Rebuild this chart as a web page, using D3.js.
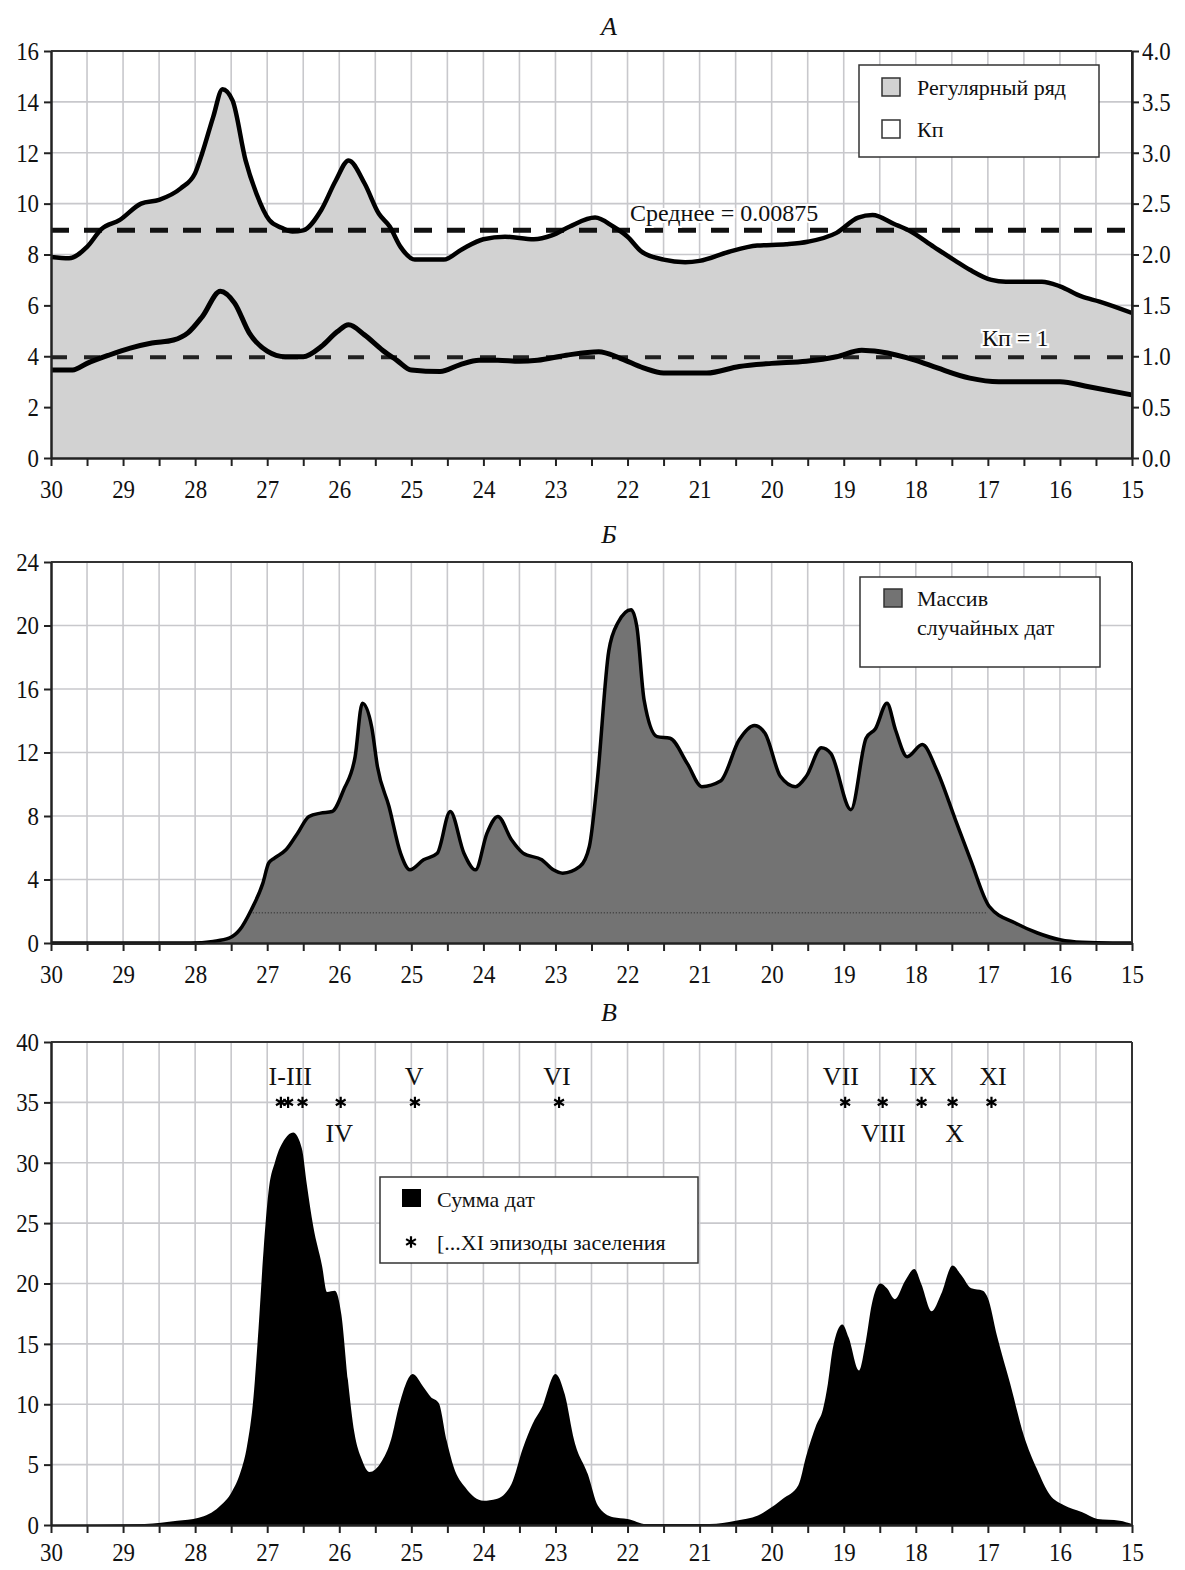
<!DOCTYPE html>
<html>
<head>
<meta charset="utf-8">
<script src="https://cdn.jsdelivr.net/npm/d3@7"></script>
<style>
  body { margin: 0; background: #fff; }
  svg text { font-family: "Liberation Serif", "Times New Roman", serif; fill: #111; }
</style>
</head>
<body>
<script>

var width  = 1185;
var height = 1570;

// panel A: regular series (left axis) and Kп (right axis)
var regYears  = [30, 29.75, 29.5, 29.3, 29.05, 28.75, 28.5, 28.2, 28.0, 27.9, 27.75, 27.62, 27.48, 27.3, 27.15,
                 26.97, 26.8, 26.65, 26.5, 26.25, 26.05, 25.87, 25.65, 25.45, 25.3, 25.15, 24.95, 24.55, 24.3, 24.0,
                 23.7, 23.3, 23.05, 22.8, 22.45, 22.2, 22.0, 21.8, 21.5, 21.2, 21.0, 20.6, 20.2, 19.8, 19.5,
                 19.1, 18.8, 18.6, 18.3, 18.1, 17.75, 17.45, 17.25, 16.95, 16.75, 16.25, 16.0, 15.7, 15.45, 15.0];
var regValues = [7.9, 7.85, 8.3, 9.0, 9.35, 10.0, 10.15, 10.6, 11.2, 12.0, 13.4, 14.5, 14.05, 11.7, 10.4,
                 9.35, 9.05, 8.9, 8.95, 9.75, 10.9, 11.7, 10.8, 9.6, 9.1, 8.3, 7.8, 7.8, 8.2, 8.6,
                 8.7, 8.6, 8.75, 9.1, 9.45, 9.1, 8.7, 8.1, 7.8, 7.7, 7.75, 8.1, 8.35, 8.4, 8.5,
                 8.85, 9.45, 9.55, 9.2, 8.95, 8.3, 7.75, 7.4, 7.0, 6.93, 6.93, 6.75, 6.35, 6.15, 5.7];

var kpYears  = [30.0, 29.7, 29.5, 29.2, 28.9, 28.6, 28.3, 28.1, 27.9, 27.65, 27.45, 27.25, 27.0, 26.75, 26.5,
                26.25, 26.03, 25.87, 25.65, 25.4, 25.2, 25.0, 24.6, 24.33, 24.06, 23.8, 23.5, 23.25, 22.85, 22.4,
                22.1, 21.78, 21.5, 20.9, 20.45, 20.0, 19.52, 19.1, 18.75, 18.5, 18.0, 17.7, 17.25, 16.85, 16.0,
                15.6, 15.0];
var kpValues = [0.865, 0.865, 0.93, 1.01, 1.08, 1.13, 1.16, 1.23, 1.39, 1.64, 1.52, 1.23, 1.05, 0.995, 0.995,
                1.095, 1.24, 1.31, 1.21, 1.06, 0.96, 0.865, 0.85, 0.915, 0.96, 0.96, 0.95, 0.96, 1.01, 1.045,
                0.98, 0.885, 0.835, 0.835, 0.9, 0.93, 0.95, 0.995, 1.06, 1.045, 0.96, 0.885, 0.785, 0.75, 0.75,
                0.70, 0.62];

var meanLevel = 8.95;   // left axis
var kpLevel   = 0.99;   // right axis

// panel Б: random dates array
var randYears  = [30, 28.06, 27.75, 27.53, 27.38, 27.22, 27.06, 26.98, 26.9, 26.74, 26.58, 26.42, 26.26, 26.1, 25.94,
                  25.78, 25.68, 25.55, 25.47, 25.31, 25.15, 25.02, 24.83, 24.64, 24.46, 24.27, 24.11, 23.95, 23.8, 23.61,
                  23.45, 23.19, 23.03, 22.9, 22.66, 22.53, 22.42, 22.26, 22.13, 21.95, 21.87, 21.77, 21.59, 21.41, 21.17,
                  20.97, 20.71, 20.45, 20.24, 20.09, 19.88, 19.67, 19.52, 19.31, 19.18, 18.9, 18.69, 18.56, 18.4, 18.28,
                  18.12, 17.91, 17.71, 17.45, 17.24, 16.98, 16.62, 16.31, 16.0, 15.69, 15.27, 15.0];
var randValues = [0, 0, 0.1, 0.3, 0.84, 2.1, 3.77, 5.03, 5.35, 5.87, 6.9, 7.97, 8.18, 8.28, 9.64,
                  11.74, 15.1, 13.6, 11.1, 8.6, 5.66, 4.61, 5.24, 5.66, 8.28, 5.66, 4.61, 6.92, 7.97, 6.5,
                  5.66, 5.24, 4.61, 4.4, 4.82, 6.08, 10.2, 18.4, 20.2, 21.0, 19.9, 15.3, 13.0, 12.9, 11.3,
                  9.85, 10.2, 12.8, 13.7, 13.2, 10.5, 9.85, 10.5, 12.3, 11.95, 8.4, 12.9, 13.5, 15.1, 13.4,
                  11.74, 12.5, 10.9, 7.76, 5.24, 2.3, 1.26, 0.63, 0.2, 0.04, 0, 0];
var randDotted = [27.2, 17.0];
var randDottedLevel = 1.9;

// panel В: sum of dates
var sumYears  = [30, 28.7, 28.25, 27.95, 27.67, 27.49, 27.37, 27.28, 27.19, 27.12, 27.05, 26.98, 26.89, 26.75, 26.64,
                 26.52, 26.45, 26.36, 26.24, 26.17, 26.06, 25.97, 25.88, 25.79, 25.69, 25.58, 25.42, 25.28, 25.17, 24.98,
                 24.83, 24.73, 24.62, 24.51, 24.41, 24.25, 24.0, 23.82, 23.61, 23.45, 23.32, 23.19, 23.0, 22.87, 22.74,
                 22.55, 22.41, 22.2, 22.0, 21.74, 20.86, 20.5, 20.19, 20.07, 19.84, 19.63, 19.52, 19.38, 19.29, 19.22,
                 19.15, 19.02, 18.93, 18.79, 18.7, 18.61, 18.49, 18.4, 18.29, 18.15, 18.02, 17.92, 17.78, 17.65, 17.49,
                 17.37, 17.23, 17.07, 17.0, 16.87, 16.69, 16.5, 16.32, 16.14, 15.95, 15.69, 15.48, 15.17, 15.0];
var sumValues = [0, 0.08, 0.35, 0.6, 1.5, 2.75, 4.38, 6.55, 10.6, 16.3, 22.8, 27.7, 30.1, 32.0, 32.5,
                 31.2, 28.2, 24.7, 21.5, 19.3, 19.4, 17.4, 12.0, 7.63, 5.46, 4.38, 5.19, 7.1, 9.9, 12.5,
                 11.4, 10.6, 10.1, 7.0, 4.77, 3.1, 2.0, 2.15, 3.4, 6.4, 8.35, 9.7, 12.5, 10.8, 7.0,
                 4.2, 1.6, 0.64, 0.5, 0.08, 0.08, 0.36, 0.78, 1.2, 2.2, 3.3, 5.74, 8.3, 9.55, 11.7,
                 14.7, 16.6, 15.5, 12.8, 15.0, 18.3, 20.0, 19.6, 18.7, 20.2, 21.2, 19.9, 17.7, 19.1, 21.5,
                 20.7, 19.6, 19.4, 18.8, 15.6, 11.7, 7.4, 4.65, 2.5, 1.65, 1.05, 0.5, 0.36, 0.08];

var episodeYears  = [26.81, 26.71, 26.51, 25.98, 24.95, 22.95, 18.98, 18.46, 17.92, 17.49, 16.95];
var episodeLevel  = 35;
var episodeLabels = ['I-III', 'IV', 'V', 'VI', 'VII', 'VIII', 'IX', 'X', 'XI'];
var episodeLabelYears = [26.68, 26.0, 24.96, 22.98, 19.04, 18.45, 17.9, 17.46, 16.93];
var episodeLabelBelow = [false, true, false, false, false, true, false, true, false];

var xTicks  = d3.range(15, 30.001, 0.5);
var yTicksA = d3.range(0, 16.001, 2);
var yTicksR = d3.range(0, 4.001, 0.5);
var yTicksB = d3.range(0, 24.001, 4);
var yTicksC = d3.range(0, 40.001, 5);

var tickFont = 26;
var tickSqueeze = 0.88;


var svg = d3.select('body')
            .append('svg')
            .attr('width', width)
            .attr('height', height);

var x = d3.scaleLinear().domain([30, 15]).range([51, 1132]);

function zip(xs, ys) {
  return xs.map(function(d, i){ return [d, ys[i]]; });
}

// tick labels in the scan are tall and narrow, so squeeze them a bit
function styleAxis(a) {
  a.attr('font-family', null);
  a.select('.domain').attr('stroke', '#222').attr('stroke-width', 2.5);
  a.selectAll('.tick line').attr('stroke', '#222').attr('stroke-width', 2);
  a.selectAll('.tick text')
   .attr('font-size', tickFont).attr('fill', '#111')
   .attr('x', function(){ return (+d3.select(this).attr('x') || 0) / tickSqueeze; })
   .attr('transform', 'scale(' + tickSqueeze + ',1)');
}

function makePanel(top, bottom, yMax, yTicks, title, titleY) {
  var y = d3.scaleLinear().domain([0, yMax]).range([bottom, top]);
  var g = svg.append('g');

  g.selectAll('line.vgrid')
   .data(xTicks.filter(function(d){ return d > 15 && d < 30; }))
   .enter().append('line')
   .attr('x1', function(d){ return x(d); })
   .attr('x2', function(d){ return x(d); })
   .attr('y1', top).attr('y2', bottom)
   .attr('stroke', '#c8c8cc').attr('stroke-width', 1.6);

  g.selectAll('line.hgrid')
   .data(yTicks.filter(function(d){ return d > 0 && d < yMax; }))
   .enter().append('line')
   .attr('x1', 51).attr('x2', 1132)
   .attr('y1', function(d){ return y(d); })
   .attr('y2', function(d){ return y(d); })
   .attr('stroke', '#c8c8cc').attr('stroke-width', 1.6);

  svg.append('text')
     .text(title)
     .attr('x', 609).attr('y', titleY)
     .attr('text-anchor', 'middle')
     .attr('font-size', 26)
     .attr('font-style', 'italic');

  return { g: g, y: y, top: top, bottom: bottom, yTicks: yTicks };
}

function finishPanel(p, pad) {
  p.g.append('line')
     .attr('x1', 51).attr('x2', 1132).attr('y1', p.top).attr('y2', p.top)
     .attr('stroke', '#333').attr('stroke-width', 2);
  p.g.append('line')
     .attr('x1', 1132).attr('x2', 1132).attr('y1', p.top).attr('y2', p.bottom)
     .attr('stroke', '#333').attr('stroke-width', 2);

  var xa = p.g.append('g')
              .attr('transform', 'translate(0,' + p.bottom + ')')
              .call(d3.axisBottom(x)
                      .tickValues(xTicks)
                      .tickSize(8).tickSizeOuter(0).tickPadding(pad)
                      .tickFormat(function(d){ return d % 1 === 0 ? d : ''; }));
  var ya = p.g.append('g')
              .attr('transform', 'translate(51,0)')
              .call(d3.axisLeft(p.y)
                      .tickValues(p.yTicks)
                      .tickSize(7).tickSizeOuter(0).tickPadding(5));
  styleAxis(xa);
  styleAxis(ya);
  return p;
}

function legendBox(lx, ly, lw, lh) {
  svg.append('rect')
     .attr('x', lx).attr('y', ly).attr('width', lw).attr('height', lh)
     .attr('fill', '#fff').attr('stroke', '#333').attr('stroke-width', 1.5);
}

function swatch(sx, sy, fill) {
  svg.append('rect')
     .attr('x', sx).attr('y', sy).attr('width', 18).attr('height', 18)
     .attr('fill', fill).attr('stroke', '#333').attr('stroke-width', 1.5);
}

function label(txt, lx, ly, size) {
  return svg.append('text').text(txt)
            .attr('x', lx).attr('y', ly)
            .attr('font-size', size || 22);
}

var star = d3.symbol().type(d3.symbolAsterisk).size(90);


// ---------- A ----------
var pA = makePanel(51, 458, 16, yTicksA, 'А', 35);
var yR = d3.scaleLinear().domain([0, 4]).range([458, 51]);

var regArea = d3.area()
                .x(function(d){ return x(d[0]); })
                .y0(pA.y(0))
                .y1(function(d){ return pA.y(d[1]); })
                .curve(d3.curveMonotoneX);
var regLine = d3.line()
                .x(function(d){ return x(d[0]); })
                .y(function(d){ return pA.y(d[1]); })
                .curve(d3.curveMonotoneX);
var kpLine  = d3.line()
                .x(function(d){ return x(d[0]); })
                .y(function(d){ return yR(d[1]); })
                .curve(d3.curveMonotoneX);

pA.g.append('path')
    .datum(zip(regYears, regValues))
    .attr('d', regArea)
    .attr('fill', '#d2d2d2');

pA.g.append('line')
    .attr('x1', 51).attr('x2', 1132)
    .attr('y1', pA.y(meanLevel)).attr('y2', pA.y(meanLevel))
    .attr('stroke', '#111').attr('stroke-width', 5)
    .attr('stroke-dasharray', '18,15');
pA.g.append('line')
    .attr('x1', 51).attr('x2', 1132)
    .attr('y1', yR(kpLevel)).attr('y2', yR(kpLevel))
    .attr('stroke', '#222').attr('stroke-width', 4)
    .attr('stroke-dasharray', '16,17');

pA.g.append('path')
    .datum(zip(regYears, regValues))
    .attr('d', regLine)
    .attr('fill', 'none').attr('stroke', '#000').attr('stroke-width', 4.5)
    .attr('stroke-linejoin', 'round');
pA.g.append('path')
    .datum(zip(kpYears, kpValues))
    .attr('d', kpLine)
    .attr('fill', 'none').attr('stroke', '#000').attr('stroke-width', 5)
    .attr('stroke-linejoin', 'round');

finishPanel(pA, 14);

var ra = pA.g.append('g')
             .attr('transform', 'translate(1132,0)')
             .call(d3.axisRight(yR).tickValues(yTicksR).tickSize(7).tickSizeOuter(0)
                     .tickPadding(3).tickFormat(d3.format('.1f')));
styleAxis(ra);

label('Среднее = 0.00875', 630, 221, 24)
  .attr('stroke', '#fff').attr('stroke-width', 4).attr('paint-order', 'stroke');
label('Кп = 1', 982, 346, 24)
  .attr('stroke', '#fff').attr('stroke-width', 4).attr('paint-order', 'stroke');

legendBox(859, 65, 240, 92);
swatch(882, 78, '#d2d2d2');
label('Регулярный ряд', 917, 95);
swatch(882, 120, '#fff');
label('Кп', 917, 137);


// ---------- Б ----------
var pB = makePanel(562, 943, 24, yTicksB, 'Б', 543);

var randArea = d3.area()
                 .x(function(d){ return x(d[0]); })
                 .y0(pB.y(0))
                 .y1(function(d){ return pB.y(d[1]); })
                 .curve(d3.curveMonotoneX);

pB.g.append('path')
    .datum(zip(randYears, randValues))
    .attr('d', randArea)
    .attr('fill', '#737373');
pB.g.append('line')
    .attr('x1', x(randDotted[0])).attr('x2', x(randDotted[1]))
    .attr('y1', pB.y(randDottedLevel)).attr('y2', pB.y(randDottedLevel))
    .attr('stroke', '#222').attr('stroke-width', 1)
    .attr('stroke-dasharray', '1,2');
pB.g.append('path')
    .datum(zip(randYears, randValues))
    .attr('d', randArea.lineY1())
    .attr('fill', 'none').attr('stroke', '#000').attr('stroke-width', 3.5)
    .attr('stroke-linejoin', 'round');

finishPanel(pB, 14);

legendBox(860, 577, 240, 90);
swatch(884, 589, '#737373');
label('Массив', 917, 606);
label('случайных дат', 917, 635);


// ---------- В ----------
var pC = makePanel(1042, 1525, 40, yTicksC, 'В', 1021);

var sumArea = d3.area()
                .x(function(d){ return x(d[0]); })
                .y0(pC.y(0))
                .y1(function(d){ return pC.y(d[1]); })
                .curve(d3.curveMonotoneX);

pC.g.append('path')
    .datum(zip(sumYears, sumValues))
    .attr('d', sumArea)
    .attr('fill', '#000');

finishPanel(pC, 10);

svg.selectAll('path.star')
   .data(episodeYears)
   .enter().append('path')
   .attr('class', 'star')
   .attr('d', star)
   .attr('transform', function(d){ return 'translate(' + x(d) + ',' + pC.y(episodeLevel) + ')'; })
   .attr('fill', 'none').attr('stroke', '#000').attr('stroke-width', 2.2);

svg.selectAll('text.episode')
   .data(episodeLabels)
   .enter().append('text')
   .attr('class', 'episode')
   .text(function(d){ return d; })
   .attr('x', function(d, i){ return x(episodeLabelYears[i]); })
   .attr('y', function(d, i){ return pC.y(episodeLevel) + (episodeLabelBelow[i] ? 40 : -17); })
   .attr('text-anchor', 'middle')
   .attr('font-size', 26);

legendBox(380, 1177, 318, 86);
svg.append('rect')
   .attr('x', 402).attr('y', 1189).attr('width', 19).attr('height', 18)
   .attr('fill', '#000');
label('Сумма дат', 437, 1207);
svg.append('path')
   .attr('d', star)
   .attr('transform', 'translate(411,1242)')
   .attr('fill', 'none').attr('stroke', '#000').attr('stroke-width', 2.2);
label('[...XI эпизоды заселения', 437, 1250);

</script>
</body>
</html>
